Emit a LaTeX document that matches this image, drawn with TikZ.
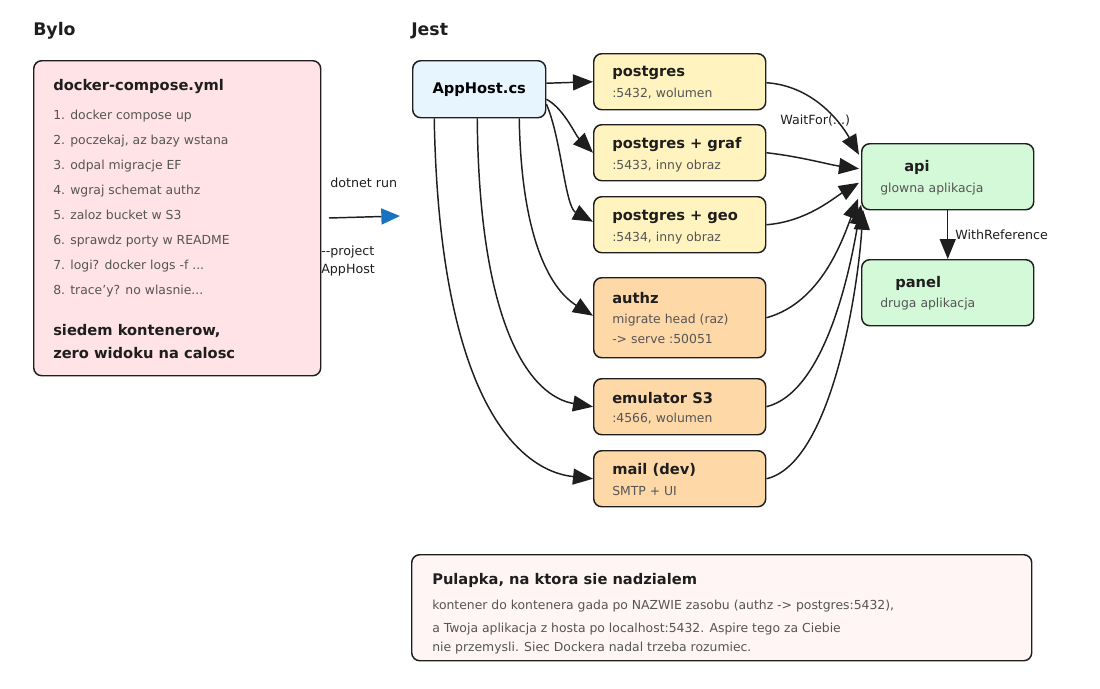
\documentclass[tikz,border=0pt]{standalone}
\usepackage{fontspec}
\setmainfont{DejaVu Sans}
\usetikzlibrary{arrows.meta,calc}
\definecolor{ink}{HTML}{1E1E1E}
\definecolor{subgray}{HTML}{555555}
\definecolor{pinkbox}{HTML}{FFE3E6}
\definecolor{bluebox}{HTML}{E7F5FF}
\definecolor{yellowbox}{HTML}{FFF3BF}
\definecolor{orangebox}{HTML}{FFD8A8}
\definecolor{greenbox}{HTML}{D3F9D8}
\definecolor{notebox}{HTML}{FFF5F5}
\definecolor{arrowblue}{HTML}{1971C2}
\tikzset{
  box/.style={draw=ink, line width=1.1pt, rounded corners=6pt, anchor=north west, inner sep=0pt},
  svc/.style={box, minimum width=129pt, minimum height=42pt},
  appbox/.style={box, minimum width=129pt, minimum height=49.5pt, fill=greenbox},
  heading/.style={anchor=west, inner sep=0pt, font=\bfseries\fontsize{13}{16}\selectfont, text=ink},
  ttl/.style={anchor=west, inner sep=0pt, font=\bfseries\fontsize{11}{13}\selectfont, text=ink},
  sub/.style={anchor=west, inner sep=0pt, font=\fontsize{9.3}{11}\selectfont, text=subgray},
  lst/.style={anchor=west, inner sep=0pt, font=\fontsize{9.3}{11}\selectfont, text=subgray},
  lbl/.style={anchor=west, inner sep=0pt, font=\fontsize{9.5}{11}\selectfont, text=ink},
  conn/.style={draw=ink, line width=1.1pt, -{Triangle[length=15pt,width=12pt]}},
}
\begin{document}
\begin{tikzpicture}[x=0.75pt,y=-0.75pt]
\useasboundingbox (0,0) rectangle (1100,689);

% Bylo
\node[heading] (bylo) at (33,31) {Bylo};
\node[box, fill=pinkbox, minimum width=215.25pt, minimum height=236.25pt] (old) at (33,60) {};
\node[ttl] (dc) at (53,87) {docker-compose.yml};
\node[lst] (l1) at (53,116) {1. docker compose up};
\node[lst] (l2) at (53,141) {2. poczekaj, az bazy wstana};
\node[lst] (l3) at (53,166) {3. odpal migracje EF};
\node[lst] (l4) at (53,191) {4. wgraj schemat authz};
\node[lst] (l5) at (53,215) {5. zaloz bucket w S3};
\node[lst] (l6) at (53,241) {6. sprawdz porty w README};
\node[lst] (l7) at (53,266) {7. logi? docker logs -f ...};
\node[lst] (l8) at (53,291) {8. trace'y? no wlasnie...};
\node[ttl] (s1) at (53,331) {siedem kontenerow,};
\node[ttl] (s2) at (53,353) {zero widoku na calosc};

% dotnet run arrow
\node[lbl] (dr) at (330,183) {dotnet run};
\coordinate (runA) at (329,218);
\coordinate (runB) at (400,216);
\draw[draw=ink, line width=1.1pt, -{Triangle[length=14pt,width=12pt,color=arrowblue]}] (runA) -- (runB);
\node[lbl] (pr1) at (321,252) {-{}-project};
\node[lbl] (pr2) at (321,270) {AppHost};

% Jest
\node[heading] (jest) at (411,31) {Jest};
\node[box, fill=bluebox, minimum width=99.75pt, minimum height=42.75pt, font=\bfseries\fontsize{11}{13}\selectfont] (app) at (412,60) {AppHost.cs};

\node[svc, fill=yellowbox] (pg) at (593,53) {};
\node[ttl] (pgt) at (612,73) {postgres};
\node[sub] (pgs) at (612,94) {:5432, wolumen};

\node[svc, fill=yellowbox] (pgg) at (593,124) {};
\node[ttl] (pggt) at (612,145) {postgres + graf};
\node[sub] (pggs) at (612,166) {:5433, inny obraz};

\node[svc, fill=yellowbox] (pgo) at (593,196) {};
\node[ttl] (pgot) at (612,217) {postgres + geo};
\node[sub] (pgos) at (612,238) {:5434, inny obraz};

\node[box, fill=orangebox, minimum width=129pt, minimum height=60pt] (az) at (593,277) {};
\node[ttl] (azt) at (612,298) {authz};
\node[sub] (azs1) at (612,320) {migrate head (raz)};
\node[sub] (azs2) at (612,339) {-> serve :50051};

\node[svc, fill=orangebox] (s3) at (593,378) {};
\node[ttl] (s3t) at (612,398) {emulator S3};
\node[sub] (s3s) at (612,419) {:4566, wolumen};

\node[svc, fill=orangebox] (ml) at (593,450) {};
\node[ttl] (mlt) at (612,470) {mail (dev)};
\node[sub] (mls) at (612,491) {SMTP + UI};

\node[appbox] (api) at (861,143) {};
\node[ttl] (apit) at (904,167) {api};
\node[sub] (apis) at (880,189) {glowna aplikacja};

\node[appbox] (pan) at (861,259) {};
\node[ttl] (pant) at (895,283) {panel};
\node[sub] (pans) at (880,304) {druga aplikacja};

% AppHost -> services
\draw[conn] ($(app.east)+(0,-6)$) -- (pg.west);
\draw[conn] ($(app.east)+(0,10)$) .. controls +(18,10) and +(-18,-18) .. ($(pgg.west)+(0,0)$);
\draw[conn] ($(app.east)+(0,15)$) .. controls +(15,35) and +(-28,-15) .. ($(pgo.west)+(0,-3)$);
\draw[conn] ($(app.south)+(40,0)$) .. controls +(2,115) and +(-45,-28) .. ($(az.west)+(0,-2)$);
\draw[conn] ($(app.south)+(-2,0)$) .. controls +(2,215) and +(-60,-10) .. (s3.west);
\draw[conn] ($(app.south)+(-45,0)$) .. controls +(5,280) and +(-75,-8) .. (ml.west);

% services -> api
\draw[conn] ($(pg.east)+(0,1)$) .. controls +(45,3) and +(-20,-35) .. ($(api.west)+(-2,-22)$);
\draw[conn] (pgg.east) .. controls +(35,4) and +(-30,-4) .. ($(api.west)+(-2,-8)$);
\draw[conn] (pgo.east) .. controls +(40,-3) and +(-25,15) .. ($(api.west)+(-2,6)$);
\draw[conn] (az.east) .. controls +(55,-15) and +(-15,40) .. ($(api.west)+(-3,22)$);
\draw[conn] (s3.east) .. controls +(60,-15) and +(-10,60) .. ($(api.west)+(0,28)$);
\draw[conn] (ml.east) .. controls +(65,-15) and +(-5,80) .. ($(api.west)+(2,33)$);
\node[lbl] (wf) at (780,121) {WaitFor(...)};

% api -> panel
\draw[conn] (api.south) -- (pan.north);
\node[lbl] (wr) at (955,235) {WithReference};

% note
\node[box, fill=notebox, minimum width=465pt, minimum height=79.5pt] (note) at (411,554) {};
\node[ttl] (nt) at (432,580) {Pulapka, na ktora sie nadzialem};
\node[sub] (n1) at (432,606) {kontener do kontenera gada po NAZWIE zasobu (authz -> postgres:5432),};
\node[sub] (n2) at (432,629) {a Twoja aplikacja z hosta po localhost:5432. Aspire tego za Ciebie};
\node[sub] (n3) at (432,648) {nie przemysli. Siec Dockera nadal trzeba rozumiec.};
\end{tikzpicture}
\end{document}
